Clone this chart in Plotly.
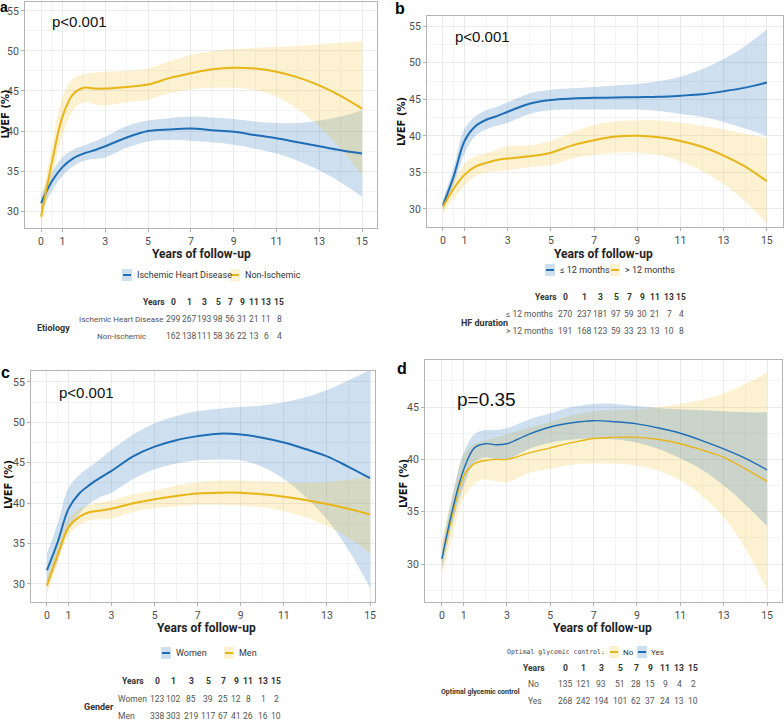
import plotly.graph_objects as go

# ---------------- data ----------------
years = [0, 0.5, 1, 1.5, 2, 2.5, 3, 4, 5, 6, 7, 8, 9, 10, 11, 12, 13, 14, 15]
tick_years = [0, 1, 3, 5, 7, 9, 11, 13, 15]

# Panel a: Etiology
a_groups = ["Ischemic Heart Disease", "Non-Ischemic"]
a_isch_mean = [31.0, 33.7, 35.5, 36.6, 37.2, 37.6, 38.1, 39.2, 40.0, 40.2, 40.3, 40.1, 39.9, 39.5, 39.1, 38.6, 38.1, 37.6, 37.2]
a_isch_lo = [30.0, 32.5, 34.4, 35.6, 36.3, 36.5, 36.7, 37.9, 38.7, 38.9, 38.8, 38.6, 38.3, 37.8, 37.2, 36.3, 35.1, 33.6, 31.8]
a_isch_hi = [32.0, 34.8, 36.7, 37.7, 38.2, 38.7, 39.3, 40.6, 41.3, 41.6, 41.8, 41.7, 41.5, 41.2, 41.0, 41.0, 41.3, 41.8, 42.6]
a_non_mean = [29.3, 36.0, 41.8, 44.6, 45.4, 45.3, 45.3, 45.5, 45.8, 46.6, 47.2, 47.7, 47.9, 47.8, 47.4, 46.7, 45.7, 44.4, 42.8]
a_non_lo = [27.9, 34.0, 39.4, 42.6, 43.6, 43.3, 43.2, 43.6, 43.9, 44.7, 45.2, 45.4, 45.4, 45.1, 44.3, 42.7, 40.6, 37.8, 34.5]
a_non_hi = [30.8, 38.0, 44.2, 46.6, 47.1, 47.3, 47.4, 47.5, 47.8, 48.7, 49.5, 50.0, 50.2, 50.4, 50.5, 50.6, 50.8, 51.0, 51.2]
a_risk_isch = [299, 267, 193, 98, 56, 31, 21, 11, 8]
a_risk_non = [162, 138, 111, 58, 36, 22, 13, 6, 4]

# Panel b: HF duration
b_groups = ["≤ 12 months", "> 12 months"]
b_le_mean = [30.5, 34.5, 39.3, 41.3, 42.2, 42.7, 43.3, 44.4, 44.9, 45.1, 45.2, 45.25, 45.3, 45.35, 45.5, 45.7, 46.1, 46.6, 47.3]
b_le_lo = [29.8, 33.3, 37.6, 40.0, 40.9, 41.4, 41.8, 43.0, 43.5, 43.6, 43.6, 43.6, 43.6, 43.4, 43.0, 42.6, 41.9, 41.0, 40.0]
b_le_hi = [31.3, 35.7, 41.0, 42.7, 43.5, 44.0, 44.6, 45.8, 46.3, 46.5, 46.7, 46.9, 47.1, 47.5, 48.1, 49.1, 50.5, 52.3, 54.6]
b_gt_mean = [30.3, 32.8, 34.7, 35.8, 36.3, 36.7, 36.9, 37.2, 37.7, 38.7, 39.4, 39.9, 40.0, 39.8, 39.3, 38.5, 37.3, 35.8, 33.8]
b_gt_lo = [29.3, 31.5, 33.2, 34.5, 35.0, 35.2, 35.3, 35.7, 36.0, 36.9, 37.4, 37.7, 37.7, 37.4, 36.5, 35.2, 33.4, 31.0, 28.0]
b_gt_hi = [31.2, 34.0, 36.2, 37.2, 37.6, 38.1, 38.6, 38.7, 39.3, 40.5, 41.5, 42.0, 42.1, 42.1, 41.8, 41.4, 40.9, 40.3, 39.7]
b_risk_le = [270, 237, 181, 97, 59, 30, 21, 7, 4]
b_risk_gt = [191, 168, 123, 59, 33, 23, 13, 10, 8]

# Panel c: Gender
c_groups = ["Women", "Men"]
c_w_mean = [31.7, 35.2, 39.3, 41.2, 42.3, 43.2, 44.0, 45.8, 47.0, 47.8, 48.3, 48.6, 48.5, 48.1, 47.5, 46.7, 45.8, 44.5, 43.1]
c_w_lo = [29.6, 33.0, 36.8, 38.7, 40.0, 40.8, 41.3, 43.0, 44.2, 44.9, 45.3, 45.4, 45.3, 44.5, 43.0, 40.8, 38.0, 34.2, 29.5]
c_w_hi = [33.8, 37.5, 41.9, 43.5, 44.5, 45.5, 46.6, 48.5, 49.9, 50.8, 51.4, 51.7, 51.9, 52.1, 52.5, 53.1, 54.0, 55.2, 56.5]
c_m_mean = [29.8, 33.6, 37.0, 38.3, 38.9, 39.1, 39.3, 40.0, 40.5, 40.9, 41.2, 41.3, 41.3, 41.1, 40.8, 40.4, 39.9, 39.3, 38.6]
c_m_lo = [28.8, 32.5, 36.0, 37.3, 37.9, 38.0, 38.1, 38.9, 39.4, 39.6, 39.8, 39.8, 39.7, 39.5, 39.0, 38.3, 37.2, 35.7, 33.8]
c_m_hi = [30.8, 34.7, 38.0, 39.3, 39.8, 40.1, 40.4, 41.1, 41.6, 42.2, 42.6, 42.8, 42.8, 42.7, 42.6, 42.5, 42.6, 42.9, 43.3]
c_risk_w = [123, 102, 85, 39, 25, 12, 8, 1, 2]
c_risk_m = [338, 303, 219, 117, 67, 41, 26, 16, 10]

# Panel d: Optimal glycemic control
d_groups = ["No", "Yes"]
d_yes_mean = [30.5, 35.3, 39.0, 41.1, 41.5, 41.4, 41.5, 42.4, 43.1, 43.5, 43.7, 43.6, 43.4, 43.0, 42.5, 41.8, 41.0, 40.1, 39.0]
d_yes_lo = [29.5, 34.0, 37.4, 39.7, 40.2, 40.0, 40.0, 41.0, 41.6, 41.9, 42.0, 41.9, 41.6, 41.0, 40.1, 39.0, 37.5, 35.7, 33.6]
d_yes_hi = [31.5, 36.6, 40.6, 42.4, 42.8, 42.8, 43.0, 43.8, 44.4, 45.0, 45.3, 45.3, 45.1, 44.9, 44.8, 44.7, 44.6, 44.5, 44.5]
d_no_mean = [30.5, 34.8, 38.4, 39.6, 39.9, 40.0, 40.0, 40.6, 41.1, 41.6, 42.0, 42.1, 42.1, 41.9, 41.5, 40.9, 40.2, 39.1, 37.9]
d_no_lo = [28.9, 32.8, 36.3, 37.7, 38.1, 37.9, 37.8, 38.7, 39.1, 39.5, 39.6, 39.6, 39.4, 38.9, 38.0, 36.5, 34.5, 31.5, 27.5]
d_no_hi = [32.3, 36.8, 40.4, 41.5, 41.8, 42.1, 42.4, 43.0, 43.6, 44.2, 44.6, 44.7, 44.8, 45.0, 45.3, 45.7, 46.3, 47.2, 48.3]
d_risk_no = [135, 121, 93, 51, 28, 15, 9, 4, 2]
d_risk_yes = [268, 242, 194, 101, 62, 37, 24, 13, 10]

p_values = ["p<0.001", "p<0.001", "p<0.001", "p=0.35"]

# ---------------- style ----------------
W, H = 784, 722
BLUE = "#1f6db5"
YELLOW = "#e8b517"
BLUE_FILL = "rgba(31,109,181,0.22)"
YELLOW_FILL = "rgba(240,190,40,0.22)"
NARROW = "Roboto, Liberation Sans Narrow, sans-serif"
ARIAL = "Liberation Sans, Arial, sans-serif"
GRID = "#ebebeb"
MINOR_GRID = "#f4f4f4"
BORDER = "#b3b3b3"


def px(x):
    return x / W


def py(y):
    return 1 - y / H


fig = go.Figure()

panels = [
    dict(ax="", dom_x=(25, 377), dom_y=(2, 228), xr=(-0.75, 15.7), yr=(27.9, 56.1),
         yt=[30, 35, 40, 45, 50, 55], lw=2,
         series=[(a_isch_mean, a_isch_lo, a_isch_hi, BLUE, BLUE_FILL),
                 (a_non_mean, a_non_lo, a_non_hi, YELLOW, YELLOW_FILL)]),
    dict(ax="2", dom_x=(427, 783), dom_y=(16, 227), xr=(-0.74, 15.75), yr=(27.53, 56.4),
         yt=[30, 35, 40, 45, 50, 55], lw=2,
         series=[(b_le_mean, b_le_lo, b_le_hi, BLUE, BLUE_FILL),
                 (b_gt_mean, b_gt_lo, b_gt_hi, YELLOW, YELLOW_FILL)]),
    dict(ax="3", dom_x=(31, 375), dom_y=(371, 602), xr=(-0.74, 15.23), yr=(27.77, 56.36),
         yt=[30, 35, 40, 45, 50, 55], lw=2,
         series=[(c_w_mean, c_w_lo, c_w_hi, BLUE, BLUE_FILL),
                 (c_m_mean, c_m_lo, c_m_hi, YELLOW, YELLOW_FILL)]),
    dict(ax="4", dom_x=(425, 782), dom_y=(360, 602), xr=(-0.78, 15.69), yr=(26.37, 49.5),
         yt=[30, 35, 40, 45], lw=1.4,
         series=[(d_no_mean, d_no_lo, d_no_hi, YELLOW, YELLOW_FILL),
                 (d_yes_mean, d_yes_lo, d_yes_hi, BLUE, BLUE_FILL)]),
]

minor_x = [0.5, 2, 4, 6, 8, 10, 12, 14]

for p in panels:
    xa, ya = "x" + p["ax"], "y" + p["ax"]
    for mean, lo, hi, col, fill in p["series"]:
        fig.add_trace(go.Scatter(x=years, y=lo, mode="lines", line=dict(width=0, shape="spline"),
                                 xaxis=xa, yaxis=ya, showlegend=False, hoverinfo="skip"))
        fig.add_trace(go.Scatter(x=years, y=hi, mode="lines", line=dict(width=0, shape="spline"),
                                 fill="tonexty", fillcolor=fill,
                                 xaxis=xa, yaxis=ya, showlegend=False, hoverinfo="skip"))
    for mean, lo, hi, col, fill in p["series"]:
        fig.add_trace(go.Scatter(x=years, y=mean, mode="lines",
                                 line=dict(color=col, width=p["lw"], shape="spline"),
                                 xaxis=xa, yaxis=ya, showlegend=False))

    minor_y = [v + 2.5 for v in [p["yt"][0] - 5] + p["yt"]]
    common = dict(showline=True, mirror=True, linecolor=BORDER, linewidth=1,
                  ticks="outside", ticklen=3, tickcolor=BORDER, tickwidth=1,
                  gridcolor=GRID, gridwidth=1, zeroline=False,
                  tickfont=dict(family=NARROW, size=10.5, color="#4d4d4d"))
    fig.update_layout(**{
        "xaxis" + p["ax"]: dict(domain=[px(p["dom_x"][0]), px(p["dom_x"][1])],
                                range=list(p["xr"]), anchor=ya,
                                tickmode="array", tickvals=tick_years,
                                minor=dict(tickmode="array", tickvals=minor_x, showgrid=True,
                                           gridcolor=MINOR_GRID, ticks=""),
                                **common),
        "yaxis" + p["ax"]: dict(domain=[py(p["dom_y"][1]), py(p["dom_y"][0])],
                                range=list(p["yr"]), anchor=xa,
                                tickmode="array", tickvals=p["yt"],
                                minor=dict(tickmode="array", tickvals=minor_y, showgrid=True,
                                           gridcolor=MINOR_GRID, ticks=""),
                                **common),
    })

ann = []
shapes = []


def text(x, y, s, size=9, bold=False, family=NARROW, color="#333333", xanchor="center", angle=0):
    if bold:
        s = "<b>" + s + "</b>"
    ann.append(dict(x=px(x), y=py(y), xref="paper", yref="paper", text=s, showarrow=False,
                    xanchor=xanchor, yanchor="middle", textangle=angle,
                    font=dict(family=family, size=size, color=color)))


# panel letters
for lab, (x, y), sz in zip(["a", "b", "c", "d"], [(4, 7), (400, 9), (5, 372), (402, 368)], [14, 16, 16, 16]):
    text(x, y, lab, size=sz, bold=True, family=ARIAL, color="black")

# p-values
for s, (x, y), sz in zip(p_values, [(79, 21), (482, 37), (86, 392), (486, 399)], [15, 15, 15, 19]):
    text(x, y, s, size=sz, family=ARIAL, color="#111111")

# axis titles
for (x, y) in [(202, 254), (603, 254), (206, 628), (602, 628)]:
    text(x, y, "Years of follow-up", size=12, bold=True, color="#222222")
for (x, y) in [(4.5, 114), (402, 122), (8, 485), (403, 484)]:
    text(x, y, "LVEF (%)", size=10, bold=True, family="DejaVu Sans, sans-serif", color="#111111", angle=-90)


# legends
def key(x, y, fill, col):
    shapes.append(dict(type="rect", xref="paper", yref="paper", x0=px(x), x1=px(x + 10),
                       y0=py(y + 6), y1=py(y - 6), fillcolor=fill, line=dict(width=0)))
    shapes.append(dict(type="line", xref="paper", yref="paper", x0=px(x + 1), x1=px(x + 9),
                       y0=py(y), y1=py(y), line=dict(color=col, width=2)))


key(122, 275, BLUE_FILL, BLUE)
text(135, 275, a_groups[0], size=9, xanchor="left")
key(230, 275, YELLOW_FILL, YELLOW)
text(243, 275, a_groups[1], size=9, xanchor="left")

key(545, 270, BLUE_FILL, BLUE)
text(558, 270, b_groups[0], size=9, xanchor="left")
key(610, 270, YELLOW_FILL, YELLOW)
text(623, 270, b_groups[1], size=9, xanchor="left")

key(161, 653, BLUE_FILL, BLUE)
text(174, 653, c_groups[0], size=9, xanchor="left")
key(224, 653, YELLOW_FILL, YELLOW)
text(237, 653, c_groups[1], size=9, xanchor="left")

text(607, 652, "Optimal glycemic control:", size=6.5, family="DejaVu Sans Mono, monospace",
     color="#444444", xanchor="right")
key(609, 652, YELLOW_FILL, YELLOW)
text(621, 652, d_groups[0], size=8, xanchor="left")
key(637, 652, BLUE_FILL, BLUE)
text(649, 652, d_groups[1], size=8, xanchor="left")


# risk tables
def table(cols, ys, yr_x, labels, label_x, label_anchor, rows, title, title_xy,
          title_size=9, num_size=8.5, label_size=8.5, title_anchor="center"):
    text(yr_x, ys[0], "Years", size=num_size, bold=True, xanchor="right")
    for c, t in zip(cols, tick_years):
        text(c, ys[0], str(t), size=num_size, bold=True)
    for lab, row, y in zip(labels, rows, ys[1:]):
        text(label_x, y, lab, size=label_size, xanchor=label_anchor, color="#555555")
        for c, v in zip(cols, row):
            text(c, y, str(v), size=num_size, color="#555555")
    text(title_xy[0], title_xy[1], title, size=title_size, bold=True, xanchor=title_anchor)


table([173, 189, 204, 218, 230, 242, 254, 266, 279], [302, 319, 336], 167,
      a_groups, 121, "center", [a_risk_isch, a_risk_non], "Etiology", (54, 328), label_size=8)
table([565, 584, 600, 616, 629, 642, 655, 669, 681], [297, 314, 331], 559,
      b_groups, 555, "right", [b_risk_le, b_risk_gt], "HF duration", (484, 323))
table([157, 173, 191, 208, 223, 236, 248, 263, 276], [681, 699, 716], 146,
      c_groups, 116, "left", [c_risk_w, c_risk_m], "Gender", (99, 707))
table([565, 583, 601, 620, 636, 650, 665, 679, 693], [668, 684, 701], 547,
      d_groups, 526, "left", [d_risk_no, d_risk_yes], "Optimal glycemic control", (522, 692),
      title_size=7, title_anchor="right")

fig.update_layout(width=W, height=H, margin=dict(l=0, r=0, t=0, b=0),
                  plot_bgcolor="white", paper_bgcolor="white",
                  annotations=ann, shapes=shapes, showlegend=False)

# remove the default 8px page margin so the 784x722 figure fills the window exactly
fig.write_html("out.html", config={"displayModeBar": False},
               post_script="document.body.style.margin='0';")
